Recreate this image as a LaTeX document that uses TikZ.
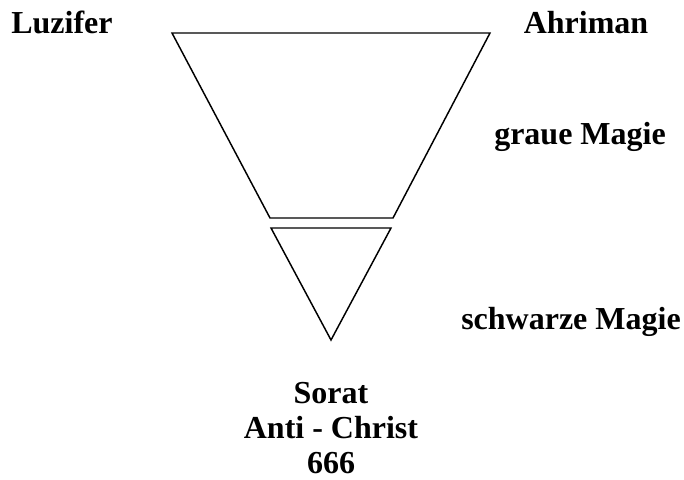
\documentclass[tikz,border=0pt]{standalone}
\usepackage{fontspec}
\setmainfont{Liberation Serif}
\usetikzlibrary{positioning}

\begin{document}
\begin{tikzpicture}[
  x=0.75pt, y=-0.75pt,
  lbl/.style={font=\fontsize{24}{26}\selectfont\bfseries, inner sep=0pt, anchor=base},
  edge/.style={draw, line width=1.1pt, line join=miter}
]
  \useasboundingbox (0,0) rectangle (684,479);

  % upper trapezoid
  \coordinate (tl) at (172,33);
  \coordinate (tr) at (490,33);
  \coordinate (bl) at (270,218);
  \coordinate (br) at (393,218);
  \draw[edge] (tl) -- (tr) -- (br) -- (bl) -- cycle;

  % lower triangle
  \coordinate (sl) at (271,228);
  \coordinate (sr) at (391,228);
  \coordinate (apex) at (331,340);
  \draw[edge] (sl) -- (sr) -- (apex) -- cycle;

  % labels
  \node[lbl] (luzifer)  at (62,33)   {Luzifer};
  \node[lbl] (ahriman)  at (586,33)  {Ahriman};
  \node[lbl] (graue)    at (580,144) {graue Magie};
  \node[lbl] (schwarze) at (571,329) {schwarze Magie};
  \node[lbl, align=center] (sorat) at (331,473)
    {Sorat\\Anti - Christ\\666};
\end{tikzpicture}
\end{document}
